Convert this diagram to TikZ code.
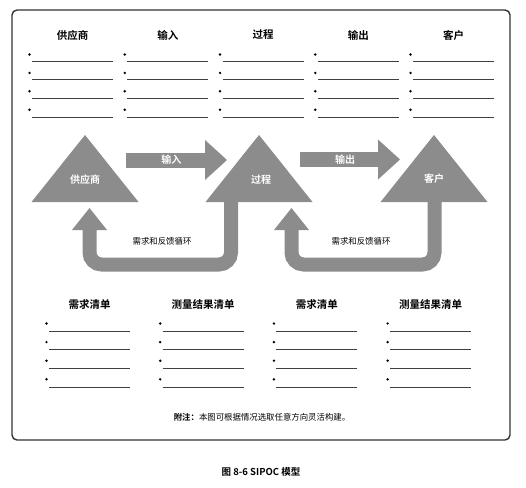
\documentclass[tikz,border=0pt]{standalone}
\usepackage{fontspec}
\setmainfont{Noto Sans CJK SC}[BoldFont={Noto Sans CJK SC Bold}]
\usepackage{xcolor}
\usepackage{tikz}
\usetikzlibrary{arrows.meta}
\definecolor{sipocgray}{RGB}{140,140,140}

\begin{document}
\begin{tikzpicture}[
  x=1pt, y=-1pt,
  frame/.style={draw=black!80, line width=1.4pt, rounded corners=5pt},
  head/.style={font=\bfseries\fontsize{10.5}{12}\selectfont},
  blank/.style={draw=black!75, line width=0.8pt},
  tri/.style={fill=sipocgray},
  tritext/.style={text=white, font=\bfseries\fontsize{10}{12}\selectfont},
  flow/.style={draw=sipocgray, line width=15pt,
               -{Triangle[width=40pt, length=22pt, line width=0pt]}},
  fback/.style={draw=sipocgray, line width=14pt, rounded corners=12pt,
                -{Triangle[width=35pt, length=22pt, line width=0pt]}},
  fbtext/.style={font=\fontsize{8.4}{10}\selectfont},
  note/.style={font=\fontsize{8.4}{10}\selectfont},
]
\useasboundingbox (0,0) rectangle (526,487);
\draw[frame] (12,10) rectangle (510,440);

\foreach \name [count=\i from 0] in {供应商,输入,过程,输出,客户} {
  \node[head] (top\i) at (72.5+95.25*\i, 35) {\name};
  \foreach \k in {0,...,3} {
    \draw[blank] (32+95.25*\i, 61+18.7*\k) -- ++(81,0);
    \fill (29.5+95.25*\i, 54.5+18.4*\k) circle (1.35);
  }
}

\fill[tri] (85,135) -- (138.5,202) -- (31.5,202) -- cycle;
\fill[tri] (259,135) -- (312.5,202) -- (205.5,202) -- cycle;
\fill[tri] (434,135) -- (487.5,202) -- (380.5,202) -- cycle;
\node[tritext] (sup) at (85,180) {供应商};
\node[tritext] (proc) at (261,180) {过程};
\node[tritext] (cust) at (434,179) {客户};

\coordinate (inA) at (126,160);
\coordinate (inB) at (227,160);
\coordinate (outA) at (300,159.5);
\coordinate (outB) at (400,159.5);
\draw[flow] (inA) -- node[tritext, pos=0.45] (inlab) {输入} (inB);
\draw[flow] (outA) -- node[tritext, pos=0.45] (outlab) {输出} (outB);

\coordinate (procfoot) at (231,198);
\coordinate (supfoot) at (89.5,208);
\coordinate (custfoot) at (434.5,198);
\coordinate (procin) at (291.5,208);
\draw[fback] (procfoot) -- (231,264.5) -| (supfoot);
\draw[fback] (custfoot) -- (434.5,264.5) -| (procin);
\node[fbtext] (fb1) at (162,241) {需求和反馈循环};
\node[fbtext] (fb2) at (361,241) {需求和反馈循环};

\foreach \name [count=\i from 0] in {需求清单,测量结果清单,需求清单,测量结果清单} {
  \node[head] (bot\i) at (89.5+113.7*\i, 304) {\name};
  \foreach \k in {0,...,3} {
    \draw[blank] (49+113.7*\i, 331+18.7*\k) -- ++(81,0);
    \fill (46.5+113.7*\i, 323.5+18.6*\k) circle (1.35);
  }
}

\node[note] (remark) at (262,417) {\textbf{附注：}本图可根据情况选取任意方向灵活构建。};
\node[head, font=\bfseries\fontsize{9.5}{11}\selectfont] (caption) at (261,472) {图 8-6 SIPOC 模型};
\end{tikzpicture}
\end{document}
